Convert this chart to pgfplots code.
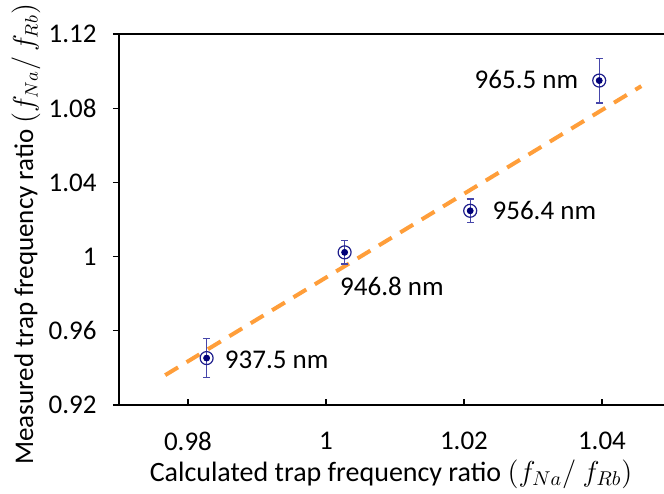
\documentclass[border=0pt]{standalone}
\usepackage{pgfplots}
\pgfplotsset{compat=1.18}
\usepackage{fontspec}
\setmainfont{Carlito}
\definecolor{fitorange}{RGB}{255,158,58}
\definecolor{ptnavy}{RGB}{0,0,120}
\definecolor{ringcol}{RGB}{30,30,140}
\definecolor{errcol}{RGB}{70,70,170}
\begin{document}
\fontsize{13.5}{16}\selectfont
\begin{tikzpicture}
\useasboundingbox (-59.5pt,-44pt) rectangle (272.5pt,202.5pt);
\begin{axis}[
  at={(0,0)}, anchor=south west,
  scale only axis, width=276pt, height=185.5pt,
  xmin=0.97, xmax=1.05, ymin=0.92, ymax=1.12,
  xtick={0.98,1,1.02,1.04}, xticklabels={0.98,1,1.02,1.04},
  ytick={0.92,0.96,1,1.04,1.08,1.12}, yticklabels={0.92,0.96,1,1.04,1.08,1.12},
  xtick pos=bottom, ytick pos=left,
  xtick align=inside, ytick align=outside,
  major tick length=3pt,
  tick style={black, line width=0.6pt},
  axis line style={black, line width=1pt},
  /pgf/number format/assume math mode=true,
  tick label style={font=\fontsize{13.5}{16}\selectfont},
  xticklabel style={yshift=-9pt},
  yticklabel style={xshift=-3.5pt},
  xlabel={Calculated trap frequency ratio $(f_{Na}/\ f_{Rb})$},
  ylabel={Measured trap frequency ratio $(f_{Na}/\,f_{Rb})$},
  xlabel style={font=\fontsize{14}{17}\selectfont, at={(axis description cs:0.493,0)}, anchor=center, yshift=-34.5pt},
  ylabel style={font=\fontsize{13.5}{16}\selectfont, at={(axis description cs:-0.1685,0.46)}, anchor=center},
  clip=false,
]
\addplot[fitorange, line width=2pt, dash pattern=on 7.5pt off 5pt] coordinates {(0.9767,0.9361) (1.0457,1.0919)};
\addplot[only marks, mark=o, mark size=3.25pt, mark options={ringcol, line width=0.6pt},
  error bars/.cd, y dir=both, y explicit,
  error bar style={errcol, line width=0.6pt},
  error mark options={rotate=90, mark size=1.75pt, errcol, line width=0.6pt}]
  coordinates {
  (0.9827,0.9453) +- (0,0.0105)
  (1.0027,1.0023) +- (0,0.0063)
  (1.0209,1.0247) +- (0,0.0063)
  (1.0396,1.0949) +- (0,0.0121)
};
\addplot[only marks, mark=*, mark size=1.5pt, mark options={ptnavy, draw=ptnavy, fill=ptnavy}]
  coordinates {(0.9827,0.9453) (1.0027,1.0023) (1.0209,1.0247) (1.0396,1.0949)};
\node[anchor=west, inner sep=0pt] at (axis cs:0.9853,0.9442) {937.5 nm};
\node[anchor=west, inner sep=0pt] at (axis cs:1.0020,0.9842) {946.8 nm};
\node[anchor=west, inner sep=0pt] at (axis cs:1.0241,1.0247) {956.4 nm};
\node[anchor=east, inner sep=0pt] at (axis cs:1.0366,1.0953) {965.5 nm};
\end{axis}
\end{tikzpicture}
\end{document}
